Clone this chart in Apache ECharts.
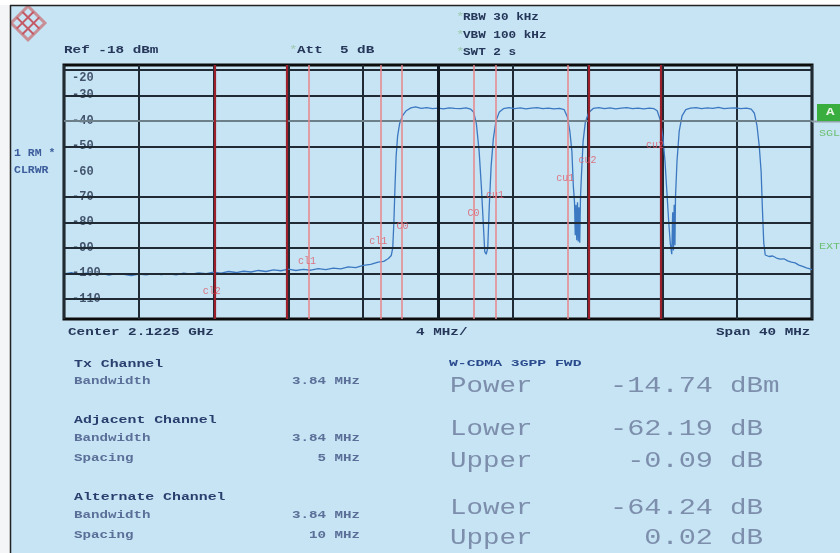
<!DOCTYPE html>
<html><head><meta charset="utf-8">
<script src="https://cdn.jsdelivr.net/npm/echarts@6/dist/echarts.min.js"></script>
<style>html,body{margin:0;padding:0;background:#c6e4f3}#c{width:840px;height:553px}</style>
</head><body><div id="c"></div>
<script>
// ---- data ----
const freqMHz = [-20,-19.6,-19.2,-18.8,-18.4,-18.0,-17.6,-17.2,-16.8,-16.4,-16.0,-15.6,-15.2,-14.8,-14.4,-14.0,-13.6,-13.2,-12.8,-12.4,-12.0,-11.6,-11.2,-10.8,-10.4,-10.0,-9.6,-9.2,-8.8,-8.4,-8.0,-7.6,-7.2,-6.8,-6.4,-6.0,-5.6,-5.2,-4.8,-4.4,-4.0,-3.6,-3.2,-2.9,-2.65,-2.5,-2.42,-2.36,-2.3,-2.24,-2.16,-2.05,-1.9,-1.7,-1.45,-1.2,-0.9,-0.6,-0.3,0.0,0.3,0.6,0.9,1.2,1.5,1.75,1.9,2.05,2.2,2.32,2.42,2.5,2.58,2.66,2.74,2.84,2.96,3.1,3.28,3.5,3.8,4.1,4.4,4.7,5.0,5.3,5.6,5.9,6.2,6.5,6.75,6.92,7.05,7.16,7.24,7.30,7.34,7.38,7.42,7.46,7.50,7.54,7.58,7.62,7.68,7.76,7.88,8.05,8.3,8.6,8.9,9.2,9.5,9.8,10.1,10.4,10.7,11.0,11.3,11.55,11.72,11.88,12.02,12.14,12.24,12.34,12.42,12.5,12.55,12.59,12.63,12.67,12.7,12.78,12.9,13.05,13.25,13.5,13.8,14.1,14.4,14.7,15.0,15.3,15.6,15.9,16.2,16.5,16.75,16.92,17.06,17.18,17.28,17.35,17.42,17.5,17.7,17.9,18.1,18.3,18.5,18.7,18.9,19.1,19.3,19.5,19.7,19.85,20.0];
const levelDb = [-100.2,-99.7,-100.5,-99.9,-100.3,-100.0,-100.7,-100.1,-100.4,-100.9,-100.3,-100.6,-100.1,-100.5,-100.2,-100.6,-99.9,-100.3,-99.8,-100.1,-99.6,-99.9,-99.3,-99.7,-99.2,-99.5,-98.9,-99.3,-98.7,-99.0,-98.4,-98.9,-98.5,-98.8,-98.2,-98.6,-98.0,-98.3,-97.5,-97.8,-96.9,-96.5,-95.6,-95.3,-94.2,-93.0,-90.0,-80.0,-66.0,-54.0,-46.0,-41.0,-38.0,-36.0,-34.9,-34.5,-35.1,-34.8,-35.2,-35.0,-35.3,-34.9,-35.1,-35.2,-34.9,-35.4,-36.5,-41.0,-52.0,-66.0,-80.0,-91.5,-92.5,-90.0,-74.0,-58.0,-47.0,-40.0,-36.5,-35.2,-34.8,-35.2,-34.9,-35.3,-35.0,-34.8,-35.2,-35.0,-35.3,-35.1,-35.6,-38.5,-44.0,-52.0,-66.0,-72.0,-85.0,-73.0,-87.0,-72.0,-87.5,-74.0,-88.0,-70.0,-60.0,-48.0,-40.5,-36.8,-35.1,-34.8,-35.2,-34.9,-35.3,-35.0,-34.8,-35.2,-35.0,-35.3,-35.0,-35.2,-36.0,-39.5,-46.0,-56.0,-68.0,-80.0,-88.0,-92.5,-76.0,-91.0,-73.0,-89.0,-70.0,-56.0,-44.0,-38.0,-35.6,-35.0,-34.8,-35.2,-34.9,-35.1,-34.7,-35.2,-35.0,-34.9,-35.2,-35.0,-35.4,-37.0,-42.0,-50.0,-60.0,-75.0,-88.0,-92.8,-93.4,-93.2,-94.0,-94.4,-94.3,-95.1,-95.6,-95.9,-96.8,-97.3,-97.9,-98.2,-98.6];
const refLevel = -18, rangeDb = 100;
const yTickLabels = [-20,-30,-40,-50,-60,-70,-80,-90,-100,-110];
const gridDb = [-20,-30,-40,-50,-70,-80,-90,-100,-110];
const txBandwidth = 3.84, adjSpacing = 5, altSpacing = 10;
const chanLabels = ['cl2','cl1','cl1','C0','C0','cu1','cu1','cu2','cu2'];
const chanLabelFreq = [-12.1,-7.0,-3.2,-1.9,1.9,3.05,6.8,8.0,11.6];
const chanLabelDb = [-107.3,-95.5,-87.6,-81.4,-76.3,-69.2,-62.5,-55.5,-49.6];
const results = [['Power','-14.74','dBm'],['Lower','-62.19','dB'],['Upper','-0.09','dB'],['Lower','-64.24','dB'],['Upper','0.02','dB']];
const setupRows = [['Tx Channel',''],['Bandwidth','3.84 MHz'],['Adjacent Channel',''],['Bandwidth','3.84 MHz'],['Spacing','5 MHz'],['Alternate Channel',''],['Bandwidth','3.84 MHz'],['Spacing','10 MHz']];

// ---- derived ----
const half = txBandwidth/2;
const txEdges = [-half, half];
const adjEdges = [-adjSpacing-half, -adjSpacing+half, adjSpacing-half, adjSpacing+half];
const altEdges = [-altSpacing-half, -altSpacing+half, altSpacing-half, altSpacing+half];
const BG = '#c6e4f3';
const FONT = 'Liberation Mono';
const trace = freqMHz.map((f,i)=>[f, levelDb[i]]);

const chart = echarts.init(document.getElementById('c'), null, {renderer:'canvas'});

function T(x, y, text, o) {
  o = o || {};
  return {type:'text', x:x, y:y, scaleX:o.sx||1.3, z:50, silent:true,
    style:{text:text, font:(o.w||'bold')+' '+(o.s||11)+'px "'+FONT+'"', fill:o.c||'#26375a',
      align:o.a||'left', verticalAlign:'middle'}};
}
const g = [];
// outer frame
g.push({type:'rect', shape:{x:0,y:0,width:10,height:553}, style:{fill:'#f3f5f6'}, z:40});
g.push({type:'rect', shape:{x:0,y:0,width:840,height:5}, style:{fill:'#ffffff'}, z:40});
g.push({type:'line', shape:{x1:10.5,y1:5,x2:10.5,y2:553}, style:{stroke:'#222',lineWidth:1.5}, z:41});
g.push({type:'line', shape:{x1:10,y1:5.5,x2:840,y2:5.5}, style:{stroke:'#222',lineWidth:1.5}, z:41});
// logo
g.push({type:'group', x:28, y:23, rotation:Math.PI/4, z:42, children:[
  {type:'rect', shape:{x:-12,y:-12,width:24,height:24}, style:{fill:'none', stroke:'#c98f96', lineWidth:3}},
  {type:'line', shape:{x1:-12,y1:-4,x2:12,y2:-4}, style:{stroke:'#c45a66',lineWidth:2}},
  {type:'line', shape:{x1:-12,y1:4,x2:12,y2:4}, style:{stroke:'#c45a66',lineWidth:2}},
  {type:'line', shape:{x1:-4,y1:-12,x2:-4,y2:12}, style:{stroke:'#c45a66',lineWidth:2}},
  {type:'line', shape:{x1:4,y1:-12,x2:4,y2:12}, style:{stroke:'#c45a66',lineWidth:2}}
]});
// header
g.push(T(64, 50, 'Ref -18 dBm'));
g.push(T(289, 50, '*', {c:'#9fc9b0', w:'normal'}));
g.push(T(297, 50, 'Att  5 dB'));
g.push(T(456, 17, '*', {c:'#9fc9b0', w:'normal'}));
g.push(T(463, 17, 'RBW 30 kHz', {sx:1.15}));
g.push(T(456, 35, '*', {c:'#9fc9b0', w:'normal'}));
g.push(T(463, 35, 'VBW 100 kHz', {sx:1.15}));
g.push(T(456, 52, '*', {c:'#9fc9b0', w:'normal'}));
g.push(T(463, 52, 'SWT 2 s', {sx:1.15}));
// left side
g.push(T(14, 153, '1 RM *', {c:'#3d5d9c', s:10, sx:1.15}));
g.push(T(14, 170, 'CLRWR', {c:'#3d5d9c', s:10, sx:1.15}));
// right side
g.push({type:'line', shape:{x1:812,y1:121.5,x2:840,y2:121.5}, style:{stroke:'#8fa3ab',lineWidth:2}, z:41});
g.push({type:'rect', shape:{x:817,y:104,width:23,height:17}, style:{fill:'#3aad3f'}, z:42});
g.push(T(826, 112.5, 'A', {c:'#e6f5e0', s:11}));
g.push(T(819, 134, 'SGL', {c:'#6cbf72', s:9, w:'normal'}));
g.push(T(819, 247, 'EXT', {c:'#6cbf72', s:9, w:'normal'}));
// footer of plot
g.push(T(68, 332, 'Center 2.1225 GHz'));
g.push(T(416, 332, '4 MHz/'));
g.push(T(716, 332, 'Span 40 MHz'));
// setup table
const rowY = [364, 381, 420, 438, 458, 497, 515, 535];
setupRows.forEach((r,i)=>{
  const head = r[1] === '';
  g.push(T(74, rowY[i], r[0], {c: head ? '#2a3f6e' : '#5b6f98', s: head ? 11 : 10.5, sx:1.35}));
  if (!head) g.push(T(360, rowY[i], r[1], {c:'#5b6f98', s:10.5, a:'right', sx:1.35}));
});
// results
g.push(T(449, 364, 'W-CDMA 3GPP FWD', {c:'#2a4a8e', s:9.5, sx:1.55}));
const resY = [386, 429, 461, 508, 538];
results.forEach((r,i)=>{
  g.push(T(450, resY[i], r[0], {c:'#7d8eac', s:22, w:'normal', sx:1.25}));
  g.push(T(713, resY[i], r[1], {c:'#7d8eac', s:22, w:'normal', sx:1.3, a:'right'}));
  g.push(T(730, resY[i], r[2], {c:'#7d8eac', s:22, w:'normal', sx:1.25}));
});

const gridLineData = gridDb.map(v=>({yAxis:v, lineStyle:{type:'solid', color: v===-40 ? '#6d7f88' : '#1f2a35', width:2}}));
const chanLineData = [].concat(
  txEdges.map(v=>({xAxis:v, lineStyle:{type:'solid', color:'#e8868a', width:1.5}})),
  adjEdges.map(v=>({xAxis:v, lineStyle:{type:'solid', color:'#e8868a', width:1.5}})),
  altEdges.map(v=>({xAxis:v, lineStyle:{type:'solid', color:'#9c1f2c', width:2.2}}))
);

chart.setOption({
  backgroundColor: BG,
  animation:false,
  graphic: g,
  grid:{left:64, top:65, right:28, bottom:234, show:true, backgroundColor:BG, borderColor:'#0c0c0c', borderWidth:3, z:0},
  xAxis:{type:'value', min:-20, max:20, interval:4,
    axisLine:{show:false}, axisTick:{show:false}, axisLabel:{show:false},
    splitLine:{show:true, lineStyle:{color:'#1f2a35', width:2}}},
  yAxis:{type:'value', min:refLevel-rangeDb, max:refLevel,
    axisLine:{show:false}, axisTick:{show:false}, splitLine:{show:false}, axisLabel:{show:false}},
  series:[
    {type:'line', data:[], z:1, silent:true,
      markLine:{silent:true, symbol:'none', label:{show:false}, animation:false,
        lineStyle:{type:'solid'}, data:gridLineData}},
    {type:'line', data:[], z:2, silent:true,
      markLine:{silent:true, symbol:'none', label:{show:false}, animation:false,
        lineStyle:{type:'solid'},
        data:[{xAxis:0, lineStyle:{type:'solid', color:'#111a22', width:3}}].concat(chanLineData)}},
    {type:'scatter', z:3, symbolSize:0, silent:true,
      data: yTickLabels.map(v=>({value:[-20, v], label: v === -20 ? {offset:[0,8]} : {}})),
      label:{show:true, position:'right', distance:6, formatter:p=>String(p.value[1]),
        fontFamily:FONT, fontWeight:'bold', fontSize:12, color:'#1f2d48',
        backgroundColor:BG, padding:[1,2]}},
    {type:'line', data:trace, z:4, symbol:'none', silent:true,
      lineStyle:{color:'#3c78c2', width:1.3}},
    {type:'scatter', z:5, symbolSize:0, silent:true,
      data: chanLabels.map((n,i)=>({value:[chanLabelFreq[i], chanLabelDb[i]], name:n})),
      label:{show:true, position:'inside', formatter:p=>p.name, fontFamily:FONT, fontSize:10, color:'#e05866'}}
  ]
});
</script></body></html>
